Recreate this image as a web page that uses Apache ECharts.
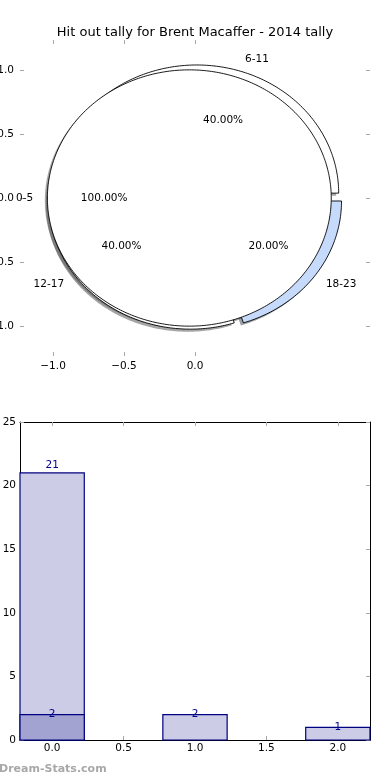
<!DOCTYPE html>
<html>
<head>
<meta charset="utf-8">
<script src="https://cdn.jsdelivr.net/npm/echarts@6/dist/echarts.min.js"></script>
<style>html,body{margin:0;padding:0;background:#fff}#c{width:390px;height:780px}</style>
</head>
<body>
<div id="c"></div>
<script>
// ---- data ----
const titleText = 'Hit out tally for Brent Macaffer - 2014 tally';
const categories = ['0-5', '6-11', '12-17', '18-23'];
const pieFractions = [1.0, 0.4, 0.4, 0.2];
const pieXTicks = [-1.0, -0.5, 0.0];
const pieYTicks = [-1.0, -0.5, 0.0, 0.5, 1.0];
const barPositions = [0, 1, 2];
const barValues = [21, 2, 1];
const overlayPositions = [0];
const overlayValues = [2];
const barXTicks = [0, 0.5, 1.0, 1.5, 2.0];

// ---- styles ----
const pieColors = ['#ffffff', '#ffffff', '#ffffff', '#c6dafc'];
const FONT = 'DejaVu Sans';
const EXPLODE = 0.04, R = 1, SHX = -0.018, SHY = -0.02;
const BAR_W = 0.45;
const tickStyle = { show: true, inside: true, length: 4, lineStyle: { color: '#a8a8a8', width: 1 } };
const hiddenLine = { show: true, onZero: false, lineStyle: { color: 'rgba(0,0,0,0)', width: 1 } };
const frameLine = { show: true, onZero: false, lineStyle: { color: '#000', width: 1 } };
const minus = v => String(v).replace('-', '\u2212');

function shadowColor(hex) {
  const n = parseInt(hex.slice(1), 16);
  const r = Math.round(((n >> 16) & 255) * 0.3), g = Math.round(((n >> 8) & 255) * 0.3), b = Math.round((n & 255) * 0.3);
  return 'rgba(' + r + ',' + g + ',' + b + ',0.5)';
}

function pieRender(params, api) {
  const i = params.dataIndex;
  const f = api.value(2);
  let start = 0;
  for (let k = 0; k < i; k++) start += 360 * pieFractions[k];
  const end = start + 360 * f;
  const mid = (start + end) / 2 * Math.PI / 180;
  const cx = EXPLODE * Math.cos(mid), cy = EXPLODE * Math.sin(mid);
  const full = f >= 1;
  const pts = [];
  if (!full) pts.push([cx, cy]);
  const n = Math.max(2, Math.ceil(end - start));
  for (let k = 0; k <= n; k++) {
    const t = (start + (end - start) * k / n) * Math.PI / 180;
    pts.push([cx + R * Math.cos(t), cy + R * Math.sin(t)]);
  }
  const px = pts.map(p => api.coord(p));
  const sh = pts.map(p => api.coord([p[0] + SHX, p[1] + SHY]));
  const lx = cx + 1.1 * R * Math.cos(mid), ly = cy + 1.1 * R * Math.sin(mid);
  const qx = cx + 0.6 * R * Math.cos(mid), qy = cy + 0.6 * R * Math.sin(mid);
  const lp = api.coord([lx, ly]), qp = api.coord([qx, qy]);
  return {
    type: 'group',
    children: [
      { type: 'polygon', shape: { points: sh }, style: { fill: shadowColor(pieColors[i]), stroke: null }, z2: 0 },
      { type: 'polygon', shape: { points: px }, style: { fill: pieColors[i], stroke: '#000', lineWidth: 0.9 }, z2: i === 0 ? 20 : 10 + i },
      { type: 'text', x: lp[0], y: lp[1], style: { text: categories[i], fill: '#000', font: '10.5px ' + FONT, align: lx > 0 ? 'left' : 'right', verticalAlign: 'middle' }, z2: 30 },
      { type: 'text', x: qp[0], y: qp[1], style: { text: (f * 100).toFixed(2) + '%', fill: '#000', font: '10.5px ' + FONT, align: 'center', verticalAlign: 'middle' }, z2: 30 }
    ]
  };
}

function barRender(fill) {
  return function (params, api) {
    const x = api.value(0), v = api.value(1);
    const p0 = api.coord([x - BAR_W / 2, v]);
    const p1 = api.coord([x + BAR_W / 2, 0]);
    const lp = api.coord([x, v * 1.03]);
    return {
      type: 'group',
      children: [
        { type: 'rect', shape: { x: p0[0], y: p0[1], width: p1[0] - p0[0], height: p1[1] - p0[1] }, style: { fill: fill, stroke: '#000080', lineWidth: 1.2 }, z2: 1 },
        { type: 'text', x: lp[0], y: lp[1], style: { text: String(v), fill: '#00008b', font: '10.5px ' + FONT, align: 'center', verticalAlign: 'middle' }, z2: 5 }
      ]
    };
  };
}

const chart = echarts.init(document.getElementById('c'), null, { renderer: 'canvas' });
const labelStyle = { color: '#000', fontFamily: FONT, fontSize: 10.5 };
chart.setOption({
  animation: false,
  backgroundColor: '#fff',
  title: { text: titleText, left: 'center', top: 21, textStyle: { fontFamily: FONT, fontSize: 13, fontWeight: 'normal', color: '#000' } },
  grid: [
    { left: 20, right: 20, top: 40, bottom: 424, containLabel: false, outerBoundsMode: 'none' },
    { left: 20, right: 20, top: 422, bottom: 40, containLabel: false, outerBoundsMode: 'none' }
  ],
  xAxis: [
    { type: 'value', gridIndex: 0, min: -1.233, max: 1.233, position: 'bottom', axisLine: hiddenLine, splitLine: { show: false },
      axisTick: Object.assign({ customValues: pieXTicks }, tickStyle),
      axisLabel: Object.assign({ customValues: pieXTicks, margin: 5, formatter: v => minus(v.toFixed(1)) }, labelStyle) },
    { type: 'value', gridIndex: 0, min: -1.233, max: 1.233, position: 'top', axisLine: hiddenLine, splitLine: { show: false },
      axisTick: Object.assign({ customValues: pieXTicks }, tickStyle), axisLabel: { show: false } },
    { type: 'value', gridIndex: 1, min: -0.225, max: 2.225, position: 'bottom', axisLine: frameLine, splitLine: { show: false },
      axisTick: Object.assign({ customValues: barXTicks }, tickStyle),
      axisLabel: Object.assign({ customValues: barXTicks, margin: 3, formatter: v => v.toFixed(1) }, labelStyle) },
    { type: 'value', gridIndex: 1, min: -0.225, max: 2.225, position: 'top', axisLine: frameLine, splitLine: { show: false },
      axisTick: Object.assign({ customValues: barXTicks }, tickStyle), axisLabel: { show: false } }
  ],
  yAxis: [
    { type: 'value', gridIndex: 0, min: -1.233, max: 1.233, position: 'left', axisLine: hiddenLine, splitLine: { show: false },
      axisTick: Object.assign({ customValues: pieYTicks }, tickStyle),
      axisLabel: Object.assign({ customValues: pieYTicks, margin: 6, formatter: v => minus(v.toFixed(1)) }, labelStyle) },
    { type: 'value', gridIndex: 0, min: -1.233, max: 1.233, position: 'right', axisLine: hiddenLine, splitLine: { show: false },
      axisTick: Object.assign({ customValues: pieYTicks }, tickStyle), axisLabel: { show: false } },
    { type: 'value', gridIndex: 1, min: 0, max: 25, interval: 5, position: 'left', axisLine: frameLine, splitLine: { show: false },
      axisTick: tickStyle, axisLabel: Object.assign({ margin: 4 }, labelStyle) },
    { type: 'value', gridIndex: 1, min: 0, max: 25, interval: 5, position: 'right', axisLine: frameLine, splitLine: { show: false },
      axisTick: tickStyle, axisLabel: { show: false } }
  ],
  graphic: [
    { type: 'text', left: -1, top: 764, style: { text: 'Dream-Stats.com', fill: '#a8a8a8', font: 'bold 11px ' + FONT } }
  ],
  series: [
    { type: 'custom', xAxisIndex: 0, yAxisIndex: 0, clip: false, renderItem: pieRender,
      data: pieFractions.map(f => [0, 0, f]) },
    { type: 'custom', xAxisIndex: 2, yAxisIndex: 2, clip: false, renderItem: barRender('#cccce6'), z: 2,
      data: barPositions.map((x, i) => [x, barValues[i]]) },
    { type: 'custom', xAxisIndex: 2, yAxisIndex: 2, clip: false, renderItem: barRender('#a3a3d1'), z: 3,
      data: overlayPositions.map((x, i) => [x, overlayValues[i]]) }
  ]
});
</script>
</body>
</html>
